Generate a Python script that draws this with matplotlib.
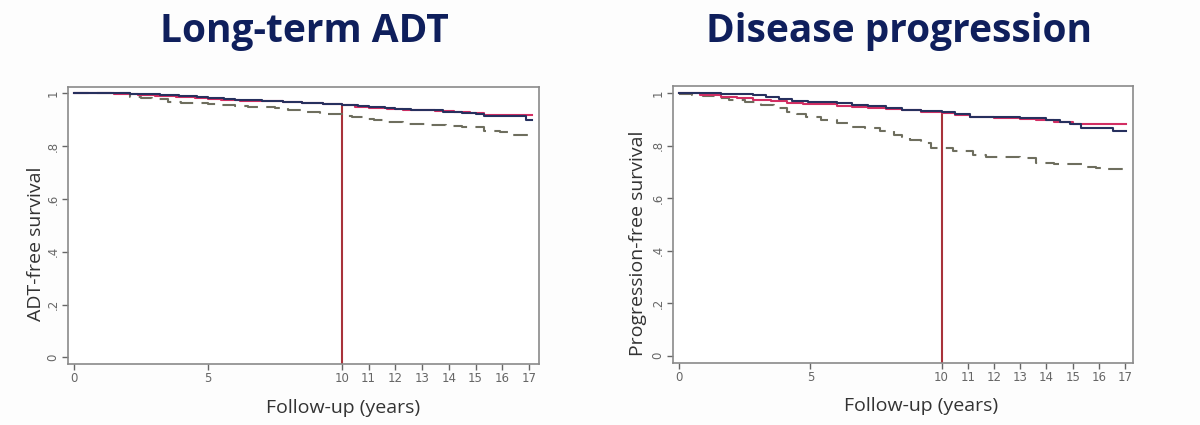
#!/usr/bin/env python3
# -*- coding: utf-8 -*-
"""Two Kaplan-Meier style panels: ADT-free and progression-free survival."""

import matplotlib
matplotlib.use("Agg")
import matplotlib.pyplot as plt

# ---------------------------------------------------------------------------
# Data
# ---------------------------------------------------------------------------

x_ticks = [0, 5, 10, 11, 12, 13, 14, 15, 16, 17]
y_ticks = [0, 0.2, 0.4, 0.6, 0.8, 1.0]
y_tick_labels = ["0", ".2", ".4", ".6", ".8", "1"]

# Long-term ADT panel
adt_navy_t = [0, 2.1, 3.2, 3.9, 4.6, 5.0, 5.6, 6.0, 6.6, 7.0, 7.8, 8.5, 9.3, 10.0,
              10.6, 11.0, 11.6, 12.0, 12.6, 13.0, 13.8, 14.5, 15.0, 15.3, 16.9, 17.1]
adt_navy_s = [1.0, 0.997, 0.994, 0.99, 0.986, 0.983, 0.979, 0.976, 0.973, 0.970, 0.967,
              0.963, 0.960, 0.956, 0.951, 0.947, 0.943, 0.940, 0.938, 0.935, 0.931,
              0.927, 0.920, 0.914, 0.899, 0.899]
adt_pink_t = [0, 1.5, 2.4, 3.0, 3.8, 4.5, 5.0, 5.5, 6.2, 7.0, 7.8, 8.5, 9.3, 10.0,
              10.5, 11.0, 11.7, 12.3, 13.0, 13.5, 14.2, 14.8, 15.3, 17.1]
adt_pink_s = [1.0, 0.996, 0.993, 0.99, 0.986, 0.982, 0.978, 0.975, 0.972, 0.969, 0.966,
              0.962, 0.959, 0.955, 0.950, 0.945, 0.941, 0.938, 0.935, 0.932, 0.929,
              0.925, 0.918, 0.918]
adt_dash_t = [0, 2.1, 2.5, 2.9, 3.5, 4.0, 4.5, 5.0, 5.5, 6.0, 6.5, 7.0, 7.5, 8.0, 8.5,
              9.2, 10.0, 10.4, 10.8, 11.2, 11.6, 12.3, 13.2, 13.9, 14.5, 15.3, 15.9,
              16.4, 17.1]
adt_dash_s = [1.0, 0.987, 0.982, 0.977, 0.968, 0.965, 0.962, 0.959, 0.956, 0.953, 0.95,
              0.947, 0.943, 0.936, 0.93, 0.922, 0.914, 0.909, 0.904, 0.898, 0.893,
              0.884, 0.879, 0.875, 0.871, 0.857, 0.853, 0.842, 0.842]
adt_at_10 = 0.956

# Disease progression panel
prog_navy_t = [0, 1.6, 2.8, 3.3, 3.8, 4.3, 4.9, 5.5, 6.0, 6.6, 7.2, 7.9, 8.5, 9.2,
               10.0, 10.5, 11.1, 12.0, 13.0, 14.0, 14.5, 14.9, 15.3, 16.55, 17.05]
prog_navy_s = [1.0, 0.997, 0.994, 0.985, 0.977, 0.972, 0.968, 0.965, 0.962, 0.956,
               0.95, 0.943, 0.938, 0.934, 0.928, 0.92, 0.911, 0.909, 0.905, 0.898,
               0.891, 0.883, 0.869, 0.856, 0.856]
prog_pink_t = [0, 0.8, 1.6, 2.2, 2.8, 3.5, 4.1, 4.7, 5.3, 6.0, 6.6, 7.2, 7.9, 8.5, 9.2,
               10.0, 10.5, 11.1, 12.0, 13.0, 13.6, 14.3, 15.0, 17.05]
prog_pink_s = [1.0, 0.993, 0.987, 0.981, 0.975, 0.969, 0.964, 0.961, 0.958, 0.953,
               0.949, 0.944, 0.939, 0.935, 0.93, 0.924, 0.917, 0.911, 0.906, 0.901,
               0.897, 0.892, 0.883, 0.883]
prog_dash_t = [0, 0.5, 0.9, 1.4, 1.9, 2.5, 3.1, 3.6, 4.1, 4.5, 4.85, 5.4, 6.0, 6.6,
               7.1, 7.65, 8.2, 8.5, 8.8, 9.2, 9.6, 10.45, 11.2, 11.7, 13.0, 13.6,
               14.3, 15.5, 15.9, 16.2, 17.05]
prog_dash_s = [0.997, 0.993, 0.989, 0.982, 0.975, 0.966, 0.956, 0.943, 0.930, 0.920,
               0.911, 0.899, 0.888, 0.873, 0.866, 0.858, 0.841, 0.832, 0.822, 0.809,
               0.790, 0.780, 0.765, 0.756, 0.752, 0.736, 0.729, 0.720, 0.715, 0.710,
               0.708]
prog_at_10 = 0.928

# ---------------------------------------------------------------------------
# Styling
# ---------------------------------------------------------------------------

NAVY = "#27305e"
PINK = "#d22e63"
DASH = "#6e6e5e"
VLINE = "#a8323a"
TITLE = "#0f1f5c"
LABEL = "#333333"
TICK = "#666666"
SPINE = "#8a8a8a"


def draw_panel(ax, curves, at_10, xlim, ylim):
    for t, s, color, ls in curves:
        if ls == "--":
            ax.step(t, s, where="post", color=color, lw=1.5, ls="--", dashes=(7, 4))
        else:
            ax.step(t, s, where="post", color=color, lw=1.5)
    ax.vlines(10, ylim[0], at_10, color=VLINE, lw=1.5, zorder=1)
    ax.set_xlim(*xlim)
    ax.set_ylim(*ylim)
    ax.set_xticks(x_ticks)
    ax.set_xticklabels([str(v) for v in x_ticks])
    ax.set_yticks(y_ticks)
    ax.set_yticklabels(y_tick_labels, rotation=90, va="center")
    ax.tick_params(colors=TICK, labelcolor=TICK, labelsize=8.5, length=4, width=1,
                   pad=2)
    for sp in ax.spines.values():
        sp.set_color(SPINE)
        sp.set_linewidth(1.2)


fig = plt.figure(figsize=(12, 4.25), dpi=100, facecolor="#fdfdfd")

ax1 = fig.add_axes([0.0564, 0.1435, 0.3928, 0.6525], facecolor="white")
draw_panel(ax1,
           [(adt_dash_t, adt_dash_s, DASH, "--"),
            (adt_pink_t, adt_pink_s, PINK, "-"),
            (adt_navy_t, adt_navy_s, NAVY, "-")],
           adt_at_10, (-0.247, 17.374), (-0.0254, 1.025))

ax2 = fig.add_axes([0.5606, 0.1466, 0.3833, 0.6518], facecolor="white")
draw_panel(ax2,
           [(prog_dash_t, prog_dash_s, DASH, "--"),
            (prog_pink_t, prog_pink_s, PINK, "-"),
            (prog_navy_t, prog_navy_s, NAVY, "-")],
           prog_at_10, (-0.252, 17.29), (-0.0267, 1.029))

# Titles and axis labels placed in figure pixels (origin at top left)
W, H = 1200, 425


def ftext(px, py, s, **kw):
    fig.text(px / W, 1 - py / H, s, **kw)


title_kw = dict(family="Open Sans", weight="bold", fontsize=28, color=TITLE,
                ha="center", va="baseline")
ftext(304, 42, "Long-term ADT", **title_kw)
ftext(899, 42, "Disease progression", **title_kw)

lab_kw = dict(family="Open Sans", fontsize=14, color=LABEL, ha="center", va="center")
ftext(343, 408, "Follow-up (years)", **lab_kw)
ftext(921, 406, "Follow-up (years)", **lab_kw)
ftext(36, 244, "ADT-free survival", rotation=90, **lab_kw)
ftext(638, 243, "Progression-free survival", rotation=90, **lab_kw)

fig.savefig("out.png", dpi=100, facecolor=fig.get_facecolor())
